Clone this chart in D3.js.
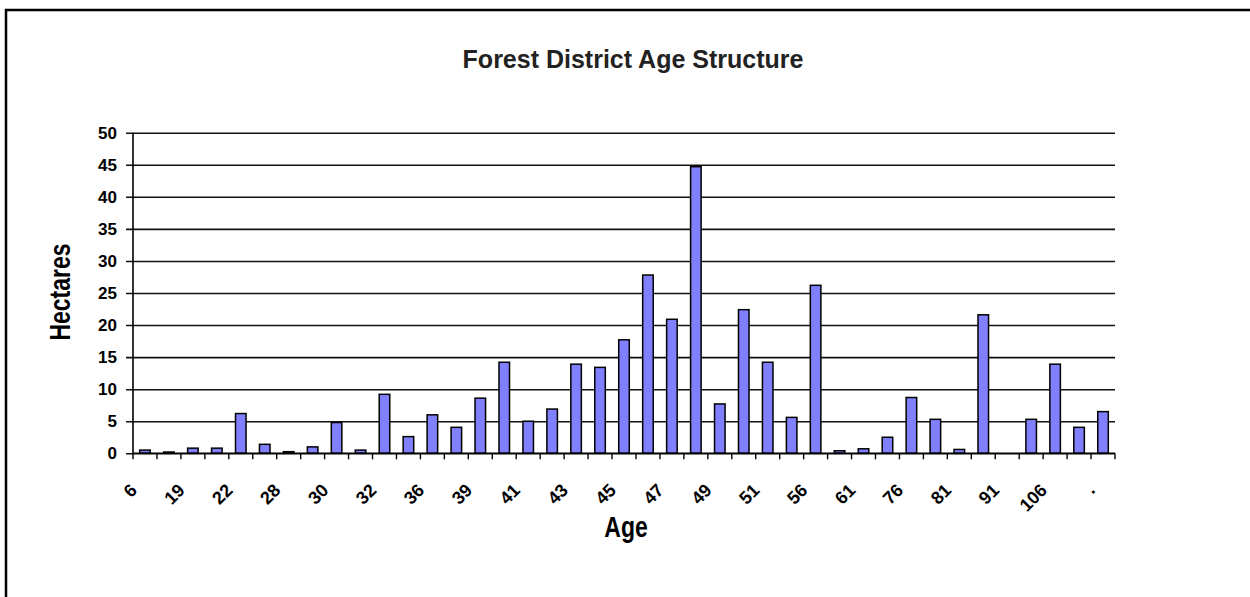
<!DOCTYPE html>
<html>
<head>
<meta charset="utf-8">
<script src="https://cdn.jsdelivr.net/npm/d3@7"></script>
<style>
  body { margin: 0; background: #fff; }
  text { font-family: "Liberation Sans", Arial, sans-serif; }
</style>
</head>
<body>
<svg id="chart" width="1250" height="597"></svg>
<script>
// hectares per age class, left to right (only every second class is labelled)
const hectares = [0.5, 0.2, 0.8, 0.8, 6.2, 1.4, 0.25, 1.0, 4.8, 0.5,
  9.2, 2.6, 6.0, 4.05, 8.6, 14.2, 5.0, 6.9, 13.9, 13.4,
  17.7, 27.8, 20.9, 44.7, 7.7, 22.4, 14.2, 5.6, 26.2, 0.4,
  0.7, 2.5, 8.7, 5.3, 0.6, 21.6, 0, 5.3, 13.9, 4.05, 6.5];
const ageLabels = ["6", "19", "22", "28", "30", "32", "36", "39", "41", "43",
  "45", "47", "49", "51", "56", "61", "76", "81", "91", "106", "."];
const yTicks = [0, 5, 10, 15, 20, 25, 30, 35, 40, 45, 50];

const plotLeft = 133, plotRight = 1115, plotTop = 132.7, plotBottom = 453.3;

const svg = d3.select("#chart");

// frame (top + left edge only visible)
svg.append("path")
  .attr("d", "M6,597 V10 H1250")
  .attr("fill", "none")
  .attr("stroke", "#000")
  .attr("stroke-width", 2.5);

const x = d3.scaleBand()
  .domain(d3.range(hectares.length))
  .range([plotLeft, plotRight])
  .paddingInner(0.56)
  .paddingOuter(0.28);

const y = d3.scaleLinear()
  .domain([0, 50])
  .range([plotBottom, plotTop]);

// gridlines + y ticks
const yAxis = svg.append("g")
  .attr("transform", `translate(${plotLeft - 7},0)`)
  .call(d3.axisLeft(y).tickValues(yTicks).tickSize(-(plotRight - plotLeft + 7)).tickPadding(9));
yAxis.select(".domain").remove();
yAxis.selectAll("line").attr("stroke", "#111").attr("stroke-width", 1.6);
yAxis.selectAll("text")
  .attr("fill", "#000")
  .style("font-size", "17px")
  .style("font-weight", "bold");

// y axis line
svg.append("line")
  .attr("x1", plotLeft).attr("x2", plotLeft)
  .attr("y1", y(50)).attr("y2", y(0))
  .attr("stroke", "#000").attr("stroke-width", 1.6);

// bars
svg.append("g").selectAll("rect")
  .data(hectares)
  .join("rect")
  .attr("x", (d, i) => x(i))
  .attr("width", x.bandwidth())
  .attr("y", d => y(d))
  .attr("height", d => y(0) - y(d))
  .attr("fill", "#8080ff")
  .attr("stroke", d => d > 0 ? "#000" : "none")
  .attr("stroke-width", 1.5);

// x axis line + boundary ticks
svg.append("line")
  .attr("x1", plotLeft).attr("x2", plotRight)
  .attr("y1", y(0)).attr("y2", y(0))
  .attr("stroke", "#000").attr("stroke-width", 1.6);

svg.append("g").selectAll("line")
  .data(d3.range(hectares.length + 1))
  .join("line")
  .attr("x1", i => plotLeft + i * x.step())
  .attr("x2", i => plotLeft + i * x.step())
  .attr("y1", y(0))
  .attr("y2", y(0) + 6)
  .attr("stroke", "#000")
  .attr("stroke-width", 1.4);

// x labels on every second class
const xAxis = svg.append("g")
  .attr("transform", `translate(0,${y(0)})`)
  .call(d3.axisBottom(x)
    .tickValues(d3.range(0, hectares.length, 2))
    .tickFormat(i => ageLabels[i / 2])
    .tickSize(0));
xAxis.select(".domain").remove();
xAxis.selectAll("text")
  .attr("x", 0).attr("y", 0).attr("dy", 0)
  .attr("text-anchor", "end")
  .attr("transform", "translate(-7,38) rotate(-45)")
  .attr("fill", "#000")
  .style("font-size", "18px")
  .style("font-weight", "bold");

// titles
svg.append("text")
  .attr("x", 633).attr("y", 68)
  .attr("text-anchor", "middle")
  .style("font-size", "25px")
  .style("font-weight", "bold")
  .attr("fill", "#222")
  .text("Forest District Age Structure");

svg.append("text")
  .attr("transform", "translate(70,292) rotate(-90) scale(1,1.3)")
  .attr("text-anchor", "middle")
  .style("font-size", "23px")
  .style("font-weight", "bold")
  .text("Hectares");

svg.append("text")
  .attr("transform", "translate(626,537) scale(1,1.3)")
  .attr("text-anchor", "middle")
  .style("font-size", "23px")
  .style("font-weight", "bold")
  .text("Age");
</script>
</body>
</html>
